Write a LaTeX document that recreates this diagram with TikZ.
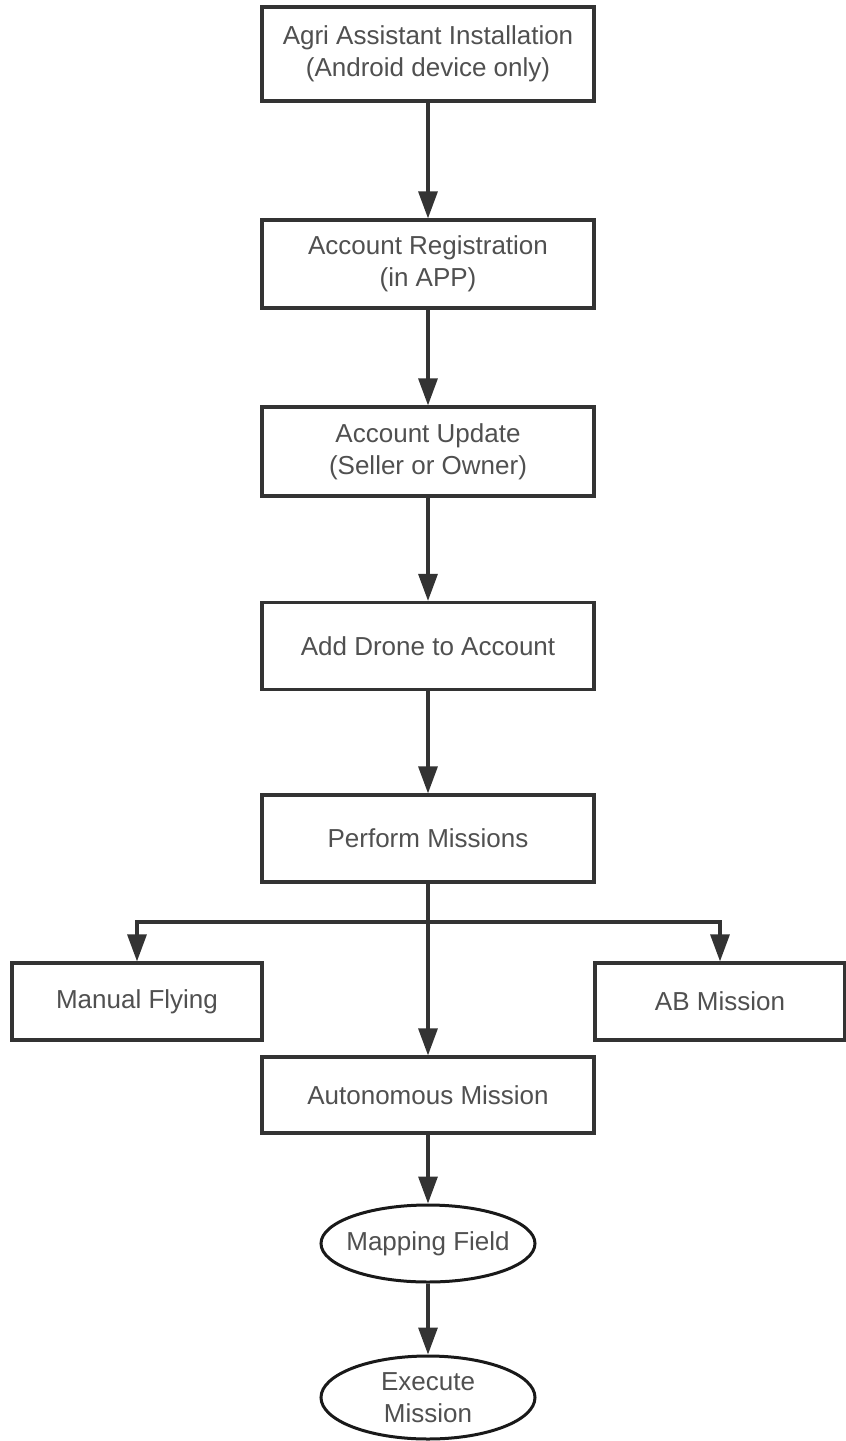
\documentclass[tikz,border=0pt]{standalone}
\usepackage{fontspec}
\setmainfont{Liberation Sans}
\usetikzlibrary{arrows.meta,shapes.geometric}
\definecolor{linecolor}{HTML}{333333}
\definecolor{textcolor}{HTML}{505050}

\begin{document}
\begin{tikzpicture}[
    x=1pt, y=-1pt,
    stepbox/.style={
        rectangle, minimum width=332pt, minimum height=#1, inner sep=0pt,
        draw=linecolor, line width=3.2pt, fill=white, align=center,
        text=textcolor, font=\fontsize{26}{32}\selectfont
    },
    stepbox/.default=88pt,
    stepoval/.style={
        ellipse, minimum width=214pt, minimum height=#1, inner sep=-10pt,
        draw=black!90, line width=3pt, fill=white, align=center,
        text=textcolor, font=\fontsize{26}{32}\selectfont
    },
    stepoval/.default=77pt,
    flow/.style={
        -{Triangle[length=27pt, width=19pt]}, line width=3.2pt, color=linecolor
    },
    link/.style={
        line width=3.2pt, color=linecolor
    }
]
\useasboundingbox (0,0) rectangle (846,1441);

% Main column
\node[stepbox=94pt] (install) at (428, 54) {Agri Assistant Installation\\(Android device only)};
\node[stepbox] (register) at (428, 264) {Account Registration\\(in APP)};
\node[stepbox=89pt] (update) at (428, 451.5) {Account Update\\(Seller or Owner)};
\node[stepbox=87pt] (adddrone) at (428, 646) {Add Drone to Account};
\node[stepbox=87pt] (missions) at (428, 838.5) {Perform Missions};

% Mission types
\coordinate (split) at (428, 922);
\node[stepbox=77pt, minimum width=250pt] (manual) at (137, 1001.5) {Manual Flying};
\node[stepbox=77pt, minimum width=250pt] (abmission) at (720, 1001.5) {AB Mission};
\node[stepbox=76pt] (auto) at (428, 1095) {Autonomous Mission};

% Autonomous workflow
\node[stepoval] (mapping) at (428, 1243.5) {Mapping Field};
\node[stepoval=83pt] (execute) at (428, 1397.5) {Execute\\Mission};

\draw[flow] (install) -- (register);
\draw[flow] (register) -- (update);
\draw[flow] (update) -- (adddrone);
\draw[flow] (adddrone) -- (missions);

\draw[link] (missions) -- (split);
\draw[flow] (split) -| (manual);
\draw[flow] (split) -| (abmission);
\draw[flow] (split) -- (auto);

\draw[flow] (auto) -- (mapping);
\draw[flow] (mapping) -- (execute);

\end{tikzpicture}
\end{document}
